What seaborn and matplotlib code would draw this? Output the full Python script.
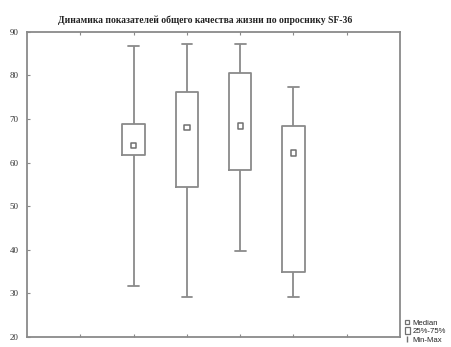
import numpy as np
import pandas as pd
import matplotlib
matplotlib.use("Agg")
import matplotlib.pyplot as plt
import seaborn as sns
from matplotlib.lines import Line2D
from matplotlib.patches import Rectangle

# Data (min, q1, median, q3, max) per group
groups = ["1", "2", "3", "4"]
mins = [31.7, 29.1, 39.8, 29.1]
q1s = [61.7, 54.5, 58.2, 35.0]
medians = [64.0, 68.0, 68.4, 62.2]
q3s = [68.8, 76.3, 80.6, 68.4]
maxs = [86.8, 87.3, 87.3, 77.4]

title = "Динамика показателей общего качества жизни по опроснику SF-36"
yticks = [20, 30, 40, 50, 60, 70, 80, 90]
legend_labels = ["Median", "25%-75%", "Min-Max"]

rows = []
for g, a, b, c, d, e in zip(groups, mins, q1s, medians, q3s, maxs):
    for v in (a, b, c, d, e):
        rows.append({"group": g, "value": v})
df = pd.DataFrame(rows)
med_df = pd.DataFrame({"group": groups, "value": medians})

sns.set_style("white")
plt.rcParams["font.family"] = ["Liberation Serif", "DejaVu Serif"]

gray = "#8a8a8a"
fig = plt.figure(figsize=(4.51, 3.47), dpi=100)
ax = fig.add_axes([0.06, 0.029, 0.827, 0.879])

sns.boxplot(data=df, x="group", y="value", ax=ax, whis=(0, 100), width=0.42,
            fill=False, color=gray, linewidth=1.3,
            medianprops=dict(linewidth=0), capwidths=0.2)
sns.scatterplot(data=med_df, x="group", y="value", ax=ax, marker="s", s=14,
                facecolor="none", edgecolor="#707070", linewidth=1.1, zorder=5)

ax.set_xlim(-2, 5)
ax.set_ylim(20, 90)
ax.set_xticks([-1, 0, 1, 2, 3, 4])
ax.set_xticklabels([])
ax.set_yticks(yticks)
ax.set_yticklabels([str(t) for t in yticks], fontsize=6.5, color="#333333")
ax.tick_params(axis="both", direction="in", length=2, width=0.8, color=gray,
               top=True, bottom=True, left=True, pad=3)
ax.tick_params(axis="y", pad=6)
ax.set_xlabel("")
ax.set_ylabel("")
for sp in ax.spines.values():
    sp.set_color(gray)
    sp.set_linewidth(1.3)
    sp.set_visible(True)

fig.text(0.455, 0.928, title, fontsize=6.9, fontweight="bold", color="#222222",
         ha="center", va="bottom")

handles = [
    Line2D([], [], marker="s", linestyle="none", markersize=3.2,
           markerfacecolor="none", markeredgecolor="#707070", markeredgewidth=0.9),
    Rectangle((0, 0), 1, 1, facecolor="none", edgecolor="#707070", linewidth=0.9),
    Line2D([], [], marker="|", linestyle="none", markersize=5,
           markeredgecolor="#707070"),
]
fig.legend(handles, legend_labels, loc="lower left", bbox_to_anchor=(0.887, -0.005),
           frameon=False, handlelength=0.7, handleheight=0.9,
           handletextpad=0.35, labelspacing=0.1, borderpad=0.1,
           prop={"family": ["Liberation Sans"], "size": 5.6})

fig.savefig("out.png", dpi=100)
